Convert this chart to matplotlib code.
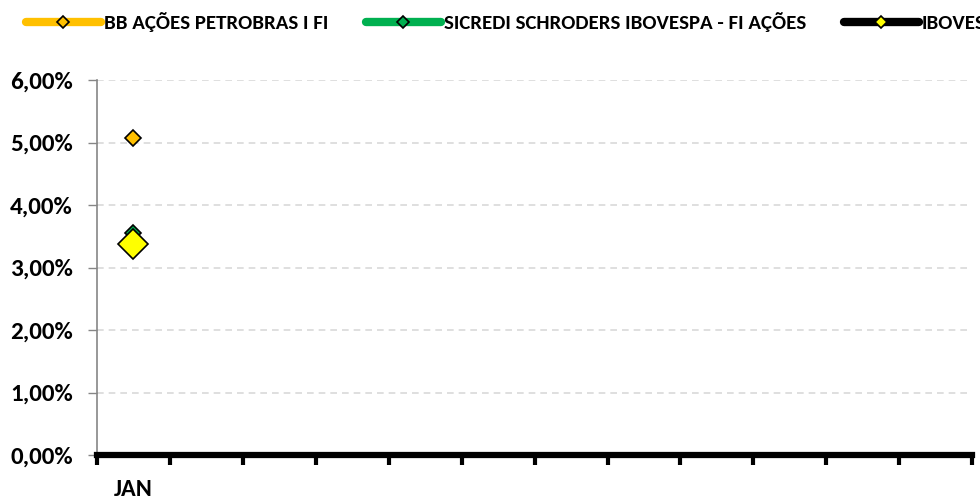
import matplotlib.pyplot as plt
from matplotlib.ticker import FuncFormatter
import numpy as np

plt.rcParams['font.family'] = ['Carlito', 'DejaVu Sans']
plt.rcParams['font.weight'] = 'bold'

meses = ['JAN', '', '', '', '', '', '', '', '', '', '', '']
bb_petro = [5.08]
sicredi = [3.55]
ibov = [3.38]

fig = plt.figure(figsize=(9.8, 5), dpi=100)
ax = fig.add_axes([0.099, 0.09, 0.893, 0.75])

x = np.arange(len(bb_petro))
ax.plot(x, bb_petro, color='#FFC000', lw=6, marker='D', ms=8, mfc='#FFC000', mec='black', mew=1.2,
        label='BB AÇÕES PETROBRAS I FI', zorder=3)
ax.plot(x, sicredi, color='#00B050', lw=6, marker='D', ms=8, mfc='#00B050', mec='black', mew=1.2,
        label='SICREDI SCHRODERS IBOVESPA - FI AÇÕES', zorder=3)
ax.plot(x, ibov, color='black', lw=6, marker='D', ms=15, mfc='#FFFF00', mec='black', mew=1.2,
        label='IBOVESPA', zorder=4)

ax.set_xlim(-0.5, len(meses) - 0.5)
ax.set_ylim(0, 6)
ax.set_yticks(np.arange(0, 7, 1))
ax.yaxis.set_major_formatter(FuncFormatter(lambda v, p: ('%.2f%%' % v).replace('.', ',')))
ax.grid(axis='y', color='#D9D9D9', linestyle=(0, (4, 3)), lw=1.2)

ax.set_xticks(np.arange(-0.5, len(meses), 1))
ax.set_xticklabels([])
ax.set_xticks(np.arange(len(meses)), minor=True)
ax.set_xticklabels(meses, minor=True, fontsize=17.5, fontweight='bold')
ax.tick_params(axis='x', which='major', length=7, width=3, color='black', direction='out')
ax.tick_params(axis='x', which='minor', length=0, pad=17)
ax.tick_params(axis='y', length=6.5, width=1, color='#868686', labelsize=18, pad=11)

for s in ['top', 'right']:
    ax.spines[s].set_visible(False)
ax.spines['left'].set_color('#868686')
ax.spines['left'].set_linewidth(1.2)
ax.spines['bottom'].set_color('black')
ax.spines['bottom'].set_linewidth(4.5)

leg = fig.legend(loc='center left', bbox_to_anchor=(0.0265, 0.956), ncol=3, frameon=False,
                 fontsize=15, handlelength=3.6, handletextpad=0.15, columnspacing=1.8,
                 borderaxespad=0, borderpad=0)
for t in leg.get_texts():
    t.set_fontweight('bold')
for h in leg.legend_handles:
    h.set_solid_capstyle('round')
    h.set_markersize(6.5)

fig.savefig('out.png', dpi=100)
